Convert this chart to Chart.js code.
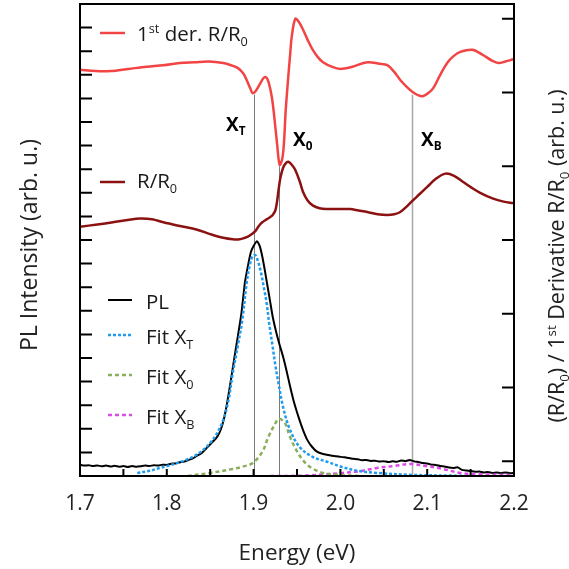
<!DOCTYPE html>
<html><head><meta charset="utf-8">
<script src="https://cdn.jsdelivr.net/npm/chart.js@4.4.1/dist/chart.umd.min.js"></script>
<style>html,body{margin:0;padding:0;background:#fff;}#wrap{width:569px;height:569px;position:relative;}</style>
</head><body><div id="wrap"><canvas id="c"></canvas></div>
<script>
// ---------- data (energy in eV) ----------
const derE = [1.700,1.718,1.735,1.756,1.777,1.796,1.815,1.832,1.848,1.865,1.874,1.882,1.888,1.892,1.896,1.899,1.903,1.907,1.911,1.914,1.917,1.921,1.924,1.927,1.930,1.933,1.935,1.937,1.940,1.942,1.944,1.948,1.952,1.957,1.962,1.968,1.974,1.980,1.990,2.000,2.014,2.031,2.045,2.054,2.062,2.069,2.077,2.084,2.090,2.095,2.101,2.107,2.115,2.123,2.130,2.138,2.152,2.164,2.175,2.182,2.190,2.199];
const derV = [5.31,5.29,5.29,5.32,5.35,5.37,5.40,5.41,5.42,5.40,5.37,5.33,5.26,5.17,5.06,4.99,5.03,5.11,5.19,5.21,5.15,4.94,4.65,4.31,4.02,4.10,4.32,4.76,5.22,5.50,5.76,6.00,5.96,5.85,5.72,5.58,5.48,5.41,5.35,5.32,5.35,5.41,5.39,5.37,5.28,5.17,5.07,5.00,4.96,4.95,4.99,5.06,5.24,5.40,5.49,5.55,5.58,5.51,5.43,5.40,5.42,5.45];

const refE = [1.700,1.720,1.738,1.755,1.769,1.783,1.796,1.815,1.835,1.850,1.865,1.876,1.884,1.890,1.894,1.898,1.902,1.906,1.910,1.915,1.919,1.922,1.925,1.927,1.929,1.931,1.934,1.937,1.940,1.944,1.948,1.953,1.957,1.962,1.968,1.976,1.985,1.998,2.011,2.021,2.031,2.043,2.054,2.062,2.069,2.076,2.082,2.091,2.100,2.110,2.121,2.131,2.141,2.151,2.161,2.176,2.188,2.199];
const refV = [3.18,3.21,3.24,3.27,3.29,3.28,3.24,3.19,3.14,3.08,3.03,3.01,3.01,3.03,3.05,3.08,3.12,3.19,3.24,3.28,3.31,3.34,3.40,3.52,3.70,3.85,3.98,4.04,4.06,4.02,3.95,3.80,3.65,3.54,3.47,3.43,3.42,3.42,3.42,3.40,3.38,3.35,3.34,3.35,3.38,3.45,3.52,3.62,3.72,3.83,3.90,3.87,3.79,3.71,3.64,3.56,3.52,3.50];

const plE = [1.700,1.705,1.710,1.715,1.720,1.725,1.730,1.735,1.740,1.745,1.750,1.755,1.760,1.765,1.770,1.775,1.780,1.785,1.790,1.795,1.800,1.805,1.810,1.815,1.820,1.825,1.830,1.835,1.840,1.846,1.852,1.858,1.862,1.866,1.870,1.874,1.878,1.882,1.886,1.890,1.894,1.897,1.900,1.904,1.907,1.910,1.913,1.916,1.919,1.922,1.926,1.930,1.934,1.938,1.942,1.946,1.950,1.954,1.958,1.962,1.967,1.973,1.980,1.986,1.990,1.995,2.000,2.005,2.010,2.015,2.020,2.025,2.030,2.035,2.040,2.045,2.050,2.055,2.060,2.065,2.070,2.075,2.080,2.085,2.090,2.095,2.100,2.105,2.110,2.115,2.120,2.125,2.130,2.135,2.140,2.145,2.150,2.155,2.160,2.165,2.170,2.175,2.180,2.185,2.190,2.195,2.200];
const plV = [0.47,0.44,0.46,0.42,0.45,0.41,0.44,0.40,0.43,0.39,0.42,0.38,0.42,0.39,0.41,0.44,0.42,0.46,0.44,0.48,0.47,0.52,0.53,0.58,0.61,0.68,0.75,0.86,0.97,1.19,1.42,1.66,1.95,2.45,3.20,4.10,5.05,5.95,6.90,8.20,9.00,9.50,9.75,9.95,9.75,9.30,8.70,8.05,7.40,6.75,6.10,5.55,5.05,4.45,3.80,3.20,2.70,2.25,1.85,1.52,1.25,1.03,0.93,0.89,0.86,0.84,0.81,0.79,0.76,0.73,0.71,0.67,0.68,0.64,0.65,0.61,0.63,0.59,0.62,0.60,0.66,0.63,0.68,0.62,0.59,0.55,0.53,0.48,0.47,0.42,0.40,0.36,0.34,0.37,0.26,0.23,0.21,0.18,0.19,0.15,0.17,0.13,0.15,0.12,0.15,0.12,0.13];

const fitTE = [1.766,1.780,1.792,1.802,1.812,1.822,1.830,1.840,1.850,1.858,1.865,1.871,1.876,1.882,1.887,1.892,1.896,1.899,1.902,1.905,1.908,1.912,1.915,1.918,1.922,1.925,1.928,1.934,1.942,1.953,1.968,1.986,2.000,2.020,2.042,2.080,2.140];
const fitTV = [0.13,0.22,0.34,0.44,0.55,0.68,0.81,1.05,1.40,1.82,2.37,3.20,4.36,5.55,6.61,8.18,9.00,9.32,9.36,9.10,8.70,7.95,7.33,6.45,5.47,4.70,4.07,2.92,1.95,1.23,0.81,0.59,0.40,0.22,0.13,0.05,0.01];

const fit0E = [1.824,1.850,1.876,1.888,1.899,1.910,1.917,1.924,1.929,1.936,1.942,1.951,1.958,1.965,1.980,2.000,2.023];
const fit0V = [0.00,0.13,0.30,0.40,0.55,1.02,1.65,2.16,2.42,2.25,1.65,0.98,0.62,0.38,0.13,0.04,0.00];

const fitBE = [1.919,1.953,1.980,2.003,2.023,2.042,2.061,2.080,2.100,2.118,2.138,2.157,2.195];
const fitBV = [0.00,0.01,0.06,0.13,0.21,0.34,0.42,0.51,0.42,0.30,0.13,0.08,0.04];

const xTickValues = [1.7,1.8,1.9,2.0,2.1,2.2];
const xTickLabels = ['1.7','1.8','1.9','2.0','2.1','2.2'];
const xMarkValues = [1.75,1.8,1.85,1.9,1.95,2.0,2.05,2.1,2.15];
const leftTickValues = [1,2,3,4,5,6,7,8,9,10,11,12,13,14,15,16,17,18,19];
const rightTickValues = [0,1,2,3,4,5,6];

const markerE = [1.900, 1.929, 2.082];
const markerTop = [4.97, 4.00, 4.97];
const markerLabels = [['X','T'],['X','0'],['X','B']];

// ---------- styling ----------
const FONT = '"Open Sans", "Noto Sans", "DejaVu Sans", sans-serif';
const C_DER = '#f24444', C_REF = '#8c1212', C_PL = '#000000', C_T = '#1f9cf0', C_0 = '#8aaf5a', C_B = '#dc4ce4';

function pts(xs, ys){ return xs.map((x,i)=>({x:x, y:ys[i]})); }

function drawRich(ctx, parts, x, y, size, bold, align){
  const f = s => (bold ? '700 ' : '') + s + 'px ' + FONT;
  let total = 0; const ws = [];
  parts.forEach(p => { const s = p[1] ? size*0.62 : size; ctx.font = f(s); const w = ctx.measureText(p[0]).width; ws.push(w); total += w; });
  let cx = align === 'center' ? x - total/2 : (align === 'right' ? x - total : x);
  ctx.textAlign = 'left'; ctx.textBaseline = 'alphabetic';
  parts.forEach((p,i) => {
    const s = p[1] ? size*0.62 : size; ctx.font = f(s);
    const dy = p[1] === 1 ? -size*0.38 : (p[1] === -1 ? size*0.22 : 0);
    ctx.fillText(p[0], cx, y + dy); cx += ws[i];
  });
}

const legendItems = [
  {parts:[['1'],['st',1],[' der. R/R'],['0',-1]], color:C_DER, w:2.5, dash:[], x1:100, x2:125, ly:33, tx:137, ty:41},
  {parts:[['R/R'],['0',-1]], color:C_REF, w:2.5, dash:[], x1:100, x2:125, ly:182, tx:137, ty:188},
  {parts:[['PL']], color:C_PL, w:2, dash:[], x1:108, x2:132, ly:300, tx:146, ty:309},
  {parts:[['Fit X'],['T',-1]], color:C_T, w:2.5, dash:[3,2], x1:108, x2:132, ly:335, tx:146, ty:344},
  {parts:[['Fit X'],['0',-1]], color:C_0, w:2.5, dash:[4,3], x1:108, x2:132, ly:375, tx:146, ty:384},
  {parts:[['Fit X'],['B',-1]], color:C_B, w:2.5, dash:[4,3], x1:108, x2:132, ly:415, tx:146, ty:424}
];
const markerLabelPos = [[226,131],[293,146],[421,146]];

const deco = {
  id:'deco',
  beforeDatasetsDraw(chart){
    const ctx = chart.ctx, xs = chart.scales.x, y2 = chart.scales.y2, a = chart.chartArea;
    ctx.save();
    markerE.forEach((e,i) => {
      const px = Math.round(xs.getPixelForValue(e)) + 0.5;
      ctx.strokeStyle = i === 2 ? '#a8a8a8' : '#7a7a7a';
      ctx.lineWidth = i === 2 ? 1.5 : 1;
      ctx.beginPath(); ctx.moveTo(px, y2.getPixelForValue(markerTop[i])); ctx.lineTo(px, a.bottom); ctx.stroke();
    });
    ctx.restore();
  },
  afterDraw(chart){
    const ctx = chart.ctx, xs = chart.scales.x, yl = chart.scales.y, y2 = chart.scales.y2, a = chart.chartArea;
    ctx.save();
    ctx.strokeStyle = '#000'; ctx.lineWidth = 2;
    ctx.strokeRect(a.left, a.top, a.right - a.left, a.bottom - a.top);
    ctx.beginPath();
    xMarkValues.forEach(v => { const p = xs.getPixelForValue(v); ctx.moveTo(p, a.bottom); ctx.lineTo(p, a.bottom - 7); });
    leftTickValues.forEach(v => { const p = yl.getPixelForValue(v); ctx.moveTo(a.left, p); ctx.lineTo(a.left + 12, p); });
    rightTickValues.forEach(v => { const p = y2.getPixelForValue(v); ctx.moveTo(a.right, p); ctx.lineTo(a.right - 12, p); });
    ctx.stroke();
    ctx.fillStyle = '#222';
    xTickValues.forEach((v,i) => drawRich(ctx, [[xTickLabels[i]]], xs.getPixelForValue(v), 510, 21, false, 'center'));
    drawRich(ctx, [['Energy (eV)']], 297, 560, 22.5, false, 'center');
    ctx.save(); ctx.translate(37, 245); ctx.rotate(-Math.PI/2);
    drawRich(ctx, [['PL Intensity (arb. u.)']], 0, 0, 23, false, 'center'); ctx.restore();
    ctx.save(); ctx.translate(564, 256); ctx.rotate(-Math.PI/2);
    drawRich(ctx, [['(R/R'],['0',-1],[') / 1'],['st',1],[' Derivative R/R'],['0',-1],[' (arb. u.)']], 0, 0, 21.5, false, 'center'); ctx.restore();
    legendItems.forEach(it => {
      ctx.save(); ctx.strokeStyle = it.color; ctx.lineWidth = it.w; ctx.setLineDash(it.dash);
      ctx.beginPath(); ctx.moveTo(it.x1, it.ly); ctx.lineTo(it.x2, it.ly); ctx.stroke(); ctx.restore();
      ctx.fillStyle = '#1a1a1a'; drawRich(ctx, it.parts, it.tx, it.ty, 20.5, false, 'left');
    });
    ctx.fillStyle = '#000';
    markerLabels.forEach((m,i) => drawRich(ctx, [[m[0]],[m[1],-1]], markerLabelPos[i][0], markerLabelPos[i][1], 19, true, 'left'));
    ctx.restore();
  }
};

const common = {pointRadius:0, fill:false, tension:0.35, borderJoinStyle:'round'};
new Chart(document.getElementById('c'), {
  type:'line',
  data:{ datasets:[
    Object.assign({label:'Fit XT', data:pts(fitTE,fitTV), borderColor:C_T, borderWidth:2.5, borderDash:[3,2], yAxisID:'y'}, common),
    Object.assign({label:'Fit X0', data:pts(fit0E,fit0V), borderColor:C_0, borderWidth:2.5, borderDash:[4,3], yAxisID:'y'}, common),
    Object.assign({label:'Fit XB', data:pts(fitBE,fitBV), borderColor:C_B, borderWidth:2.5, borderDash:[4,3], yAxisID:'y'}, common),
    Object.assign({}, common, {label:'PL', data:pts(plE,plV), borderColor:C_PL, borderWidth:2, tension:0.15, yAxisID:'y'}),
    Object.assign({label:'R/R0', data:pts(refE,refV), borderColor:C_REF, borderWidth:2.5, yAxisID:'y2'}, common),
    Object.assign({label:'1st der. R/R0', data:pts(derE,derV), borderColor:C_DER, borderWidth:2.5, yAxisID:'y2'}, common)
  ]},
  options:{
    responsive:true, maintainAspectRatio:false, animation:false,
    layout:{padding:{top:4,left:0,right:0,bottom:0}},
    plugins:{legend:{display:false}, tooltip:{enabled:false}},
    scales:{
      x:{type:'linear', min:1.7, max:2.2, ticks:{display:false}, grid:{display:false}, border:{display:false}, afterFit:s=>{s.height=93;}},
      y:{position:'left', min:0, max:20, ticks:{display:false}, grid:{display:false}, border:{display:false}, afterFit:s=>{s.width=80;}},
      y2:{position:'right', min:-0.2, max:6.2, ticks:{display:false}, grid:{display:false}, border:{display:false}, afterFit:s=>{s.width=55;}}
    }
  },
  plugins:[deco]
});
</script></body></html>
